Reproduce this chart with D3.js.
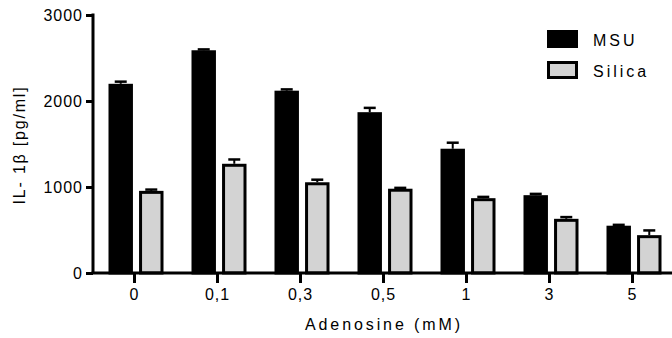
<!DOCTYPE html>
<html><head><meta charset="utf-8">
<script src="https://cdn.jsdelivr.net/npm/d3@7"></script>
<style>
html,body{margin:0;padding:0;background:#fff;}
svg{display:block;font-family:"Liberation Sans",Arial,sans-serif;}
</style></head><body>
<svg id="chart" width="672" height="338"></svg>
<script>
const categories = ["0","0,1","0,3","0,5","1","3","5"];
const seriesNames = ["MSU","Silica"];
const msuValues = [2200,2590,2120,1870,1445,905,550];
const msuErrors = [25,10,15,50,70,15,10];
const silicaValues = [955,1270,1055,980,870,630,440];
const silicaErrors = [15,50,30,10,15,20,55];
const yTicks = [0,1000,2000,3000];
const xTitle = "Adenosine (mM)";
const yTitle = "IL- 1\u03B2 [pg/ml]";

const svg = d3.select("#chart");
const x0 = d3.scaleBand().domain(categories).range([93,674]).padding(0);
const x1 = d3.scaleBand().domain(seriesNames).range([-26,29]).paddingInner(0.2);
const y = d3.scaleLinear().domain([0,3000]).range([273,15]);

const fills = {MSU:"#000000", Silica:"#d3d3d3"};
const rows = categories.map((c,i)=>({cat:c, vals:[
  {s:"MSU", v:msuValues[i], e:msuErrors[i]},
  {s:"Silica", v:silicaValues[i], e:silicaErrors[i]}
]}));

const g = svg.append("g");
const groups = g.selectAll("g.grp").data(rows).join("g")
  .attr("transform", d=>`translate(${x0(d.cat)+x0.bandwidth()/2},0)`);

groups.selectAll("g.err").data(d=>d.vals).join("g").each(function(d){
  const cx = x1(d.s)+x1.bandwidth()/2;
  const sel = d3.select(this);
  sel.append("line").attr("x1",cx).attr("x2",cx).attr("y1",y(d.v)).attr("y2",y(d.v+d.e))
    .attr("stroke","#000").attr("stroke-width",2);
  sel.append("line").attr("x1",cx-6).attr("x2",cx+6).attr("y1",y(d.v+d.e)).attr("y2",y(d.v+d.e))
    .attr("stroke","#000").attr("stroke-width",2.5);
});

groups.selectAll("rect").data(d=>d.vals).join("rect")
  .attr("x", d=>x1(d.s)+1.5)
  .attr("width", x1.bandwidth()-3)
  .attr("y", d=>y(d.v)+1.5)
  .attr("height", d=>y(0)-y(d.v)-1.5)
  .attr("fill", d=>fills[d.s])
  .attr("stroke","#000").attr("stroke-width",3);

const yAxis = g.append("g").attr("transform","translate(93,0)")
  .call(d3.axisLeft(y).tickValues(yTicks).tickFormat(d3.format("d")).tickSize(7).tickSizeOuter(0).tickPadding(3));
const xAxis = g.append("g").attr("transform","translate(0,273)")
  .call(d3.axisBottom(x0).tickSize(10).tickSizeOuter(0).tickPadding(5));
[yAxis,xAxis].forEach(a=>{
  a.select(".domain").attr("stroke","#000").attr("stroke-width",3);
  a.selectAll(".tick line").attr("stroke","#000").attr("stroke-width",3);
  a.selectAll(".tick text").attr("fill","#000").style("font-size","16px")
   .style("font-family","'Liberation Sans',Arial,sans-serif").style("letter-spacing","1px");
});
yAxis.select(".domain").attr("d","M0,273V13.5");
xAxis.select(".domain").attr("d","M91.5,0H674");
yAxis.selectAll(".tick text").attr("dy","0.36em");
xAxis.selectAll(".tick text").attr("dy","0.75em");

svg.append("text").attr("x",384).attr("y",330).attr("text-anchor","middle")
  .style("font-size","16px").style("letter-spacing","2.9px").text(xTitle);
svg.append("text").attr("transform","translate(25,145) rotate(-90)").attr("text-anchor","middle")
  .style("font-size","16px").style("letter-spacing","1.8px").text(yTitle);

const leg = svg.append("g").attr("transform","translate(547,30)");
const li = leg.selectAll("g").data(seriesNames).join("g")
  .attr("transform",(d,i)=>`translate(0,${i*31})`);
li.append("rect").attr("x",1.5).attr("y",1.5).attr("width",28).attr("height",15)
  .attr("fill",d=>fills[d]).attr("stroke","#000").attr("stroke-width",3);
li.append("text").attr("x",46).attr("y",16).style("font-size","16px")
  .style("letter-spacing","3px").text(d=>d);
</script>
</body></html>
